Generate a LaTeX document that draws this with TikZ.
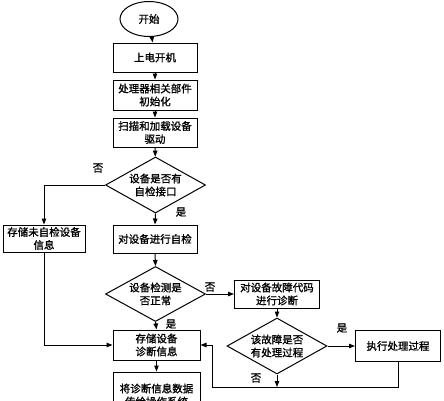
\documentclass[tikz,border=0pt]{standalone}
\usepackage{fontspec}
\newfontfamily\cjk[FakeBold=1.2]{Noto Sans CJK SC}
\usetikzlibrary{shapes.geometric,arrows.meta}
\begin{document}
\begin{tikzpicture}[x=1pt,y=-1pt,
  every node/.style={font=\cjk\fontsize{10.5}{13}\selectfont},
  box/.style={draw,line width=1pt,align=center,inner sep=0pt},
  dia/.style={draw,diamond,line width=1pt,align=center,inner sep=0pt,aspect=1.8,minimum width=100pt,minimum height=56pt},
  arr/.style={line width=1pt,-{Triangle[length=6pt,width=4.5pt]}},
  ln/.style={line width=1pt}]
\useasboundingbox (0,0) rectangle (444,400);
\clip (0,0) rectangle (444,400);
\node[draw,ellipse,line width=1pt,minimum width=58pt,minimum height=35pt,inner sep=0pt] (start) at (149,19) {开始};
\node[box,minimum width=84pt,minimum height=29pt] (b1) at (155,57.5) {上电开机};
\node[box,minimum width=84pt,minimum height=30pt] (b2) at (155,95) {处理器相关部件\\初始化};
\node[box,minimum width=84pt,minimum height=29pt] (b3) at (155,132.5) {扫描和加载设备\\驱动};
\node[dia] (d1) at (155.5,185) {设备是否有\\自检接口};
\node[box,minimum width=82pt,minimum height=27pt] (bl) at (44,238.5) {存储未自检设备\\信息};
\node[box,minimum width=84pt,minimum height=28pt] (b4) at (155,239) {对设备进行自检};
\node[dia,minimum height=55pt] (d2) at (155.5,294) {设备检测是\\否正常};
\node[box,minimum width=85pt,minimum height=28pt] (b5) at (277,294) {对设备故障代码\\进行诊断};
\node[dia] (d3) at (277,346) {该故障是否\\有处理过程};
\node[box,minimum width=85pt,minimum height=31pt] (b6) at (398,346) {执行处理过程};
\node[box,minimum width=87pt,minimum height=30pt] (s) at (156.5,345) {存储设备\\诊断信息};
\node[box,minimum width=87pt,minimum height=46pt] (last) at (156.5,395) {将诊断信息数据\\传给操作系统};
\coordinate (ret) at (212,387);
\coordinate (m) at (277,387);
\draw[arr] (start) -- (b1);
\draw[arr] (b1) -- (b2);
\draw[arr] (b2) -- (b3);
\draw[arr] (b3) -- (d1);
\draw[arr] (d1.west) -| (bl.north);
\draw[arr] (d1.south) -- (b4.north);
\draw[arr] (b4.south) -- (d2.north);
\draw[arr] (bl.south) |- (s.west);
\draw[arr] (d2.south) -- (s.north);
\draw[arr] (d2.east) -- (b5.west);
\draw[arr] (b5.south) -- (d3.north);
\draw[arr] (d3.east) -- (b6.west);
\draw[arr] (d3.south) -- (m);
\draw[arr] (b6.south) |- (ret) |- (s.east);
\draw[arr] (s.south) -- (last.north);
\node (l1) at (98,168) {否};
\node (l2) at (181,212) {是};
\node (l3) at (210,287) {否};
\node (l4) at (171,324) {是};
\node (l5) at (342,328) {是};
\node (l6) at (256,378) {否};
\end{tikzpicture}
\end{document}
